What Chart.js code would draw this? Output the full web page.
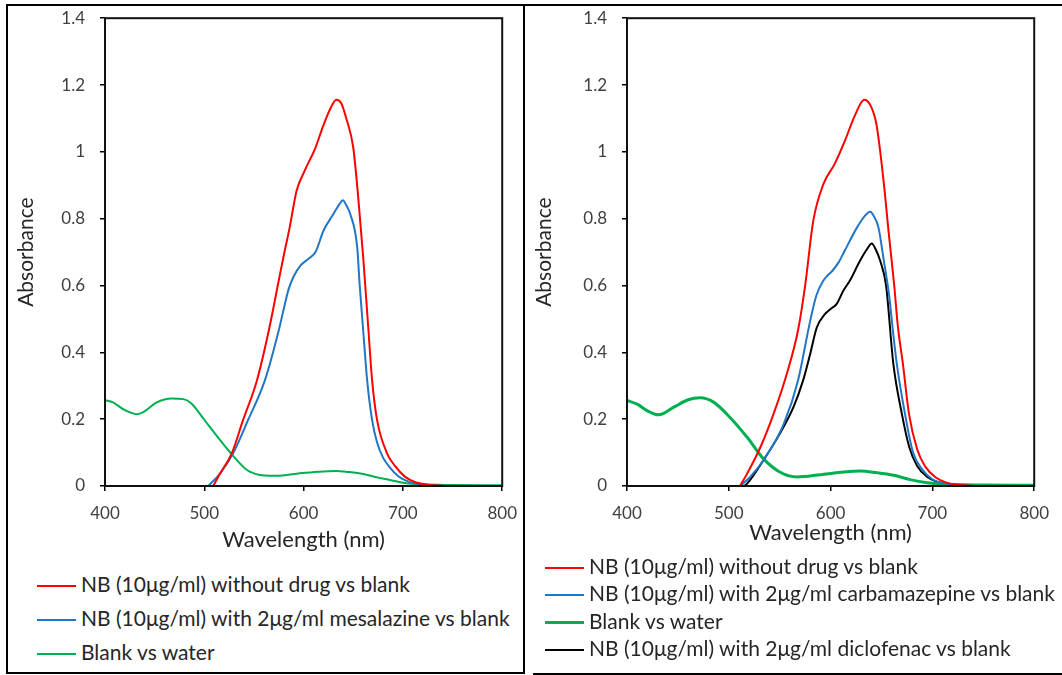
<!DOCTYPE html>
<html>
<head>
<meta charset="utf-8">
<script src="https://cdn.jsdelivr.net/npm/chart.js@4.4.0/dist/chart.umd.min.js"></script>
<style>
  body { margin: 0; background: #fff; font-family: Lato, sans-serif; }
  #page { position: relative; width: 1062px; height: 675px; overflow: hidden; }
  .frameL { position: absolute; left: 6px; top: 4px; width: 519px; height: 670px; box-sizing: border-box; border: 2px solid #000; }
  .topR { position: absolute; left: 525px; top: 4px; width: 540px; height: 2px; background: #000; }
  .botR { position: absolute; left: 533px; top: 673px; width: 540px; height: 2px; background: #000; }
  .cv { position: absolute; }
  .legend { position: absolute; color: #262626; font-size: 21px; }
  .legend .row { position: absolute; left: 0; white-space: nowrap; height: 26px; line-height: 26px; }
  .legend .swatch { display: inline-block; width: 39px; vertical-align: middle; margin-right: 5px; position: relative; top: -1px; }
</style>
</head>
<body>
<div id="page">
  <div class="frameL"></div>
  <div class="topR"></div>
  <div class="botR"></div>
  <div class="cv" style="left:8px;top:-7px;width:521px;height:563px;"><canvas id="left"></canvas></div>
  <div class="cv" style="left:527px;top:-7px;width:534px;height:553px;"><canvas id="right"></canvas></div>
  <div class="legend" id="legL" style="left:37px;top:571px;"></div>
  <div class="legend" id="legR" style="left:545px;top:553px;"></div>
</div>
<script>
// axes
const xTicks = [400, 500, 600, 700, 800];
const yTicks = [0, 0.2, 0.4, 0.6, 0.8, 1, 1.2, 1.4];
const yTickLabels = ['0', '0.2', '0.4', '0.6', '0.8', '1', '1.2', '1.4'];

// left panel (mesalazine)
const redL_wl  = [509, 516, 528, 539, 553, 565, 574, 580, 586, 593, 601, 612, 620, 627, 633, 638, 643, 650, 655, 660, 665.3, 669, 674, 684, 692, 702, 712, 725, 740];
const redL_abs = [0, 0.038, 0.10, 0.197, 0.316, 0.466, 0.60, 0.69, 0.774, 0.884, 0.943, 1.013, 1.08, 1.13, 1.156, 1.145, 1.10, 1.013, 0.864, 0.685, 0.466, 0.316, 0.197, 0.098, 0.06, 0.028, 0.012, 0.004, 0.001];
const mesL_wl  = [504, 516, 529, 544, 561, 575, 580, 585, 590, 597, 605, 612, 620, 630, 636, 639.5, 643, 647, 654, 656.5, 660, 664, 669, 674, 680, 687, 695, 705, 720, 735];
const mesL_abs = [0, 0.038, 0.098, 0.197, 0.316, 0.466, 0.53, 0.59, 0.627, 0.66, 0.68, 0.70, 0.764, 0.814, 0.843, 0.855, 0.84, 0.814, 0.714, 0.6, 0.466, 0.316, 0.197, 0.13, 0.085, 0.055, 0.03, 0.014, 0.004, 0.001];
const grnL_wl  = [400, 408, 420, 432, 439, 452, 467, 479, 487, 499, 512, 529, 543, 556, 566, 576, 596, 615, 633, 645, 660, 675, 687, 700, 720, 750, 800];
const grnL_abs = [0.257, 0.25, 0.227, 0.215, 0.222, 0.25, 0.262, 0.26, 0.247, 0.202, 0.152, 0.09, 0.048, 0.033, 0.031, 0.031, 0.038, 0.043, 0.045, 0.042, 0.036, 0.025, 0.018, 0.01, 0.005, 0.003, 0.002];

// right panel (carbamazepine, diclofenac)
const redR_wl  = [511, 518, 531, 544, 557, 568, 575, 583, 593, 604, 614, 624, 633, 639, 645, 652, 657, 662.5, 666, 671, 677, 685, 693, 703, 713, 725, 740];
const redR_abs = [0, 0.037, 0.116, 0.216, 0.336, 0.466, 0.60, 0.794, 0.904, 0.964, 1.033, 1.11, 1.156, 1.14, 1.083, 0.914, 0.76, 0.60, 0.48, 0.366, 0.216, 0.11, 0.058, 0.026, 0.011, 0.004, 0.001];
const carR_wl  = [511, 521, 536, 554, 568, 580, 586, 593, 597, 602, 608, 614, 626, 634, 639, 642, 647, 652, 657.5, 661, 665, 673, 681, 690, 700, 712, 730];
const carR_abs = [0, 0.027, 0.086, 0.186, 0.316, 0.495, 0.57, 0.615, 0.63, 0.645, 0.67, 0.705, 0.774, 0.81, 0.821, 0.81, 0.774, 0.68, 0.57, 0.47, 0.366, 0.217, 0.1, 0.05, 0.02, 0.008, 0.002];
const grnR_wl  = [400, 410, 420, 431, 446, 460, 472, 485, 501, 518, 534, 550, 567, 590, 610, 629, 645, 662, 678, 695, 715, 750, 800];
const grnR_abs = [0.256, 0.245, 0.225, 0.213, 0.236, 0.258, 0.264, 0.251, 0.206, 0.146, 0.082, 0.042, 0.027, 0.034, 0.041, 0.045, 0.04, 0.032, 0.019, 0.01, 0.005, 0.003, 0.002];
const dicR_wl  = [515, 518, 534, 550, 563.5, 573, 580, 586.5, 594.6, 600, 606, 612.6, 619, 629, 636, 640.4, 644, 648.6, 654.5, 661.6, 670, 677.3, 685, 695, 705, 718, 735];
const dicR_abs = [0, 0.007, 0.077, 0.156, 0.236, 0.316, 0.396, 0.475, 0.515, 0.53, 0.545, 0.585, 0.615, 0.675, 0.71, 0.726, 0.71, 0.675, 0.6, 0.366, 0.216, 0.116, 0.06, 0.027, 0.012, 0.004, 0.001];

const RED = '#ff0000', BLUE = '#2176c7', GREEN = '#00b050', BLACK = '#000000';

function pts(wl, abs) {
  return wl.map((w, i) => ({ x: w, y: abs[i] }));
}

function series(label, wl, abs, color, width) {
  return {
    label, data: pts(wl, abs), borderColor: color, backgroundColor: color,
    borderWidth: width, showLine: true, pointRadius: 0, cubicInterpolationMode: 'monotone'
  };
}

const plotBox = {
  id: 'plotBox',
  afterDatasetsDraw(chart) {
    const { ctx, chartArea: a } = chart;
    ctx.save();
    ctx.strokeStyle = '#111';
    ctx.lineWidth = 2;
    ctx.strokeRect(a.left, a.top, a.right - a.left, a.bottom - a.top);
    ctx.restore();
  }
};

function makeChart(id, datasets, yWidth, xHeight, pad, yTitlePad, xTitlePad) {
  return new Chart(document.getElementById(id), {
    type: 'scatter',
    data: { datasets },
    options: {
      responsive: true, maintainAspectRatio: false, animation: false,
      layout: { padding: pad },
      plugins: { legend: { display: false }, tooltip: { enabled: false } },
      scales: {
        x: {
          type: 'linear', min: 400, max: 800,
          afterBuildTicks: s => { s.ticks = xTicks.map(v => ({ value: v })); },
          afterFit: s => { s.height = xHeight; },
          border: { display: false },
          grid: { display: true, drawOnChartArea: false, drawTicks: true, tickLength: 5, color: '#000', lineWidth: 1.5 },
          ticks: { color: '#404040', font: { family: 'Lato', size: 17 }, padding: 12, maxRotation: 0 },
          title: { display: true, text: 'Wavelength (nm)', color: '#262626', font: { family: 'Lato', size: 22 }, padding: xTitlePad }
        },
        y: {
          type: 'linear', min: 0, max: 1.4,
          afterBuildTicks: s => { s.ticks = yTicks.map(v => ({ value: v })); },
          afterFit: s => { s.width = yWidth; },
          border: { display: false },
          grid: { display: true, drawOnChartArea: false, drawTicks: true, tickLength: 5, color: '#000', lineWidth: 1.5 },
          ticks: { color: '#404040', font: { family: 'Lato', size: 17 }, padding: 15, callback: (v, i) => yTickLabels[i] },
          title: { display: true, text: 'Absorbance', color: '#262626', font: { family: 'Lato', size: 21 }, padding: yTitlePad }
        }
      }
    },
    plugins: [plotBox]
  });
}

const leftSets = [
  series('NB (10μg/ml) without drug vs blank', redL_wl, redL_abs, RED, 2),
  series('NB (10μg/ml) with 2μg/ml mesalazine vs blank', mesL_wl, mesL_abs, BLUE, 2),
  series('Blank vs water', grnL_wl, grnL_abs, GREEN, 2)
];
const rightSets = [
  series('NB (10μg/ml) without drug vs blank', redR_wl, redR_abs, RED, 2),
  series('NB (10μg/ml) with 2μg/ml carbamazepine vs blank', carR_wl, carR_abs, BLUE, 2),
  series('Blank vs water', grnR_wl, grnR_abs, GREEN, 3),
  series('NB (10μg/ml) with 2μg/ml diclofenac vs blank', dicR_wl, dicR_abs, BLACK, 2)
];

const leftChart = makeChart('left', leftSets, 97, 70, { left: 0, top: 11, right: 13, bottom: 0 }, { top: 6, bottom: 4 }, { top: 4, bottom: 3 });
const rightChart = makeChart('right', rightSets, 100, 60, { left: 0, top: 11, right: 19, bottom: 0 }, { top: 5, bottom: 4 }, { top: 0, bottom: 0 });

function buildLegend(el, chart, rowGap) {
  chart.data.datasets.forEach((d, i) => {
    const row = document.createElement('div');
    row.className = 'row';
    row.style.top = (i * rowGap) + 'px';
    const sw = document.createElement('span');
    sw.className = 'swatch';
    sw.style.height = d.borderWidth + 'px';
    sw.style.background = d.borderColor;
    row.appendChild(sw);
    row.appendChild(document.createTextNode(d.label));
    el.appendChild(row);
  });
}
buildLegend(document.getElementById('legL'), leftChart, 34);
buildLegend(document.getElementById('legR'), rightChart, 27.3);
</script>
</body>
</html>
